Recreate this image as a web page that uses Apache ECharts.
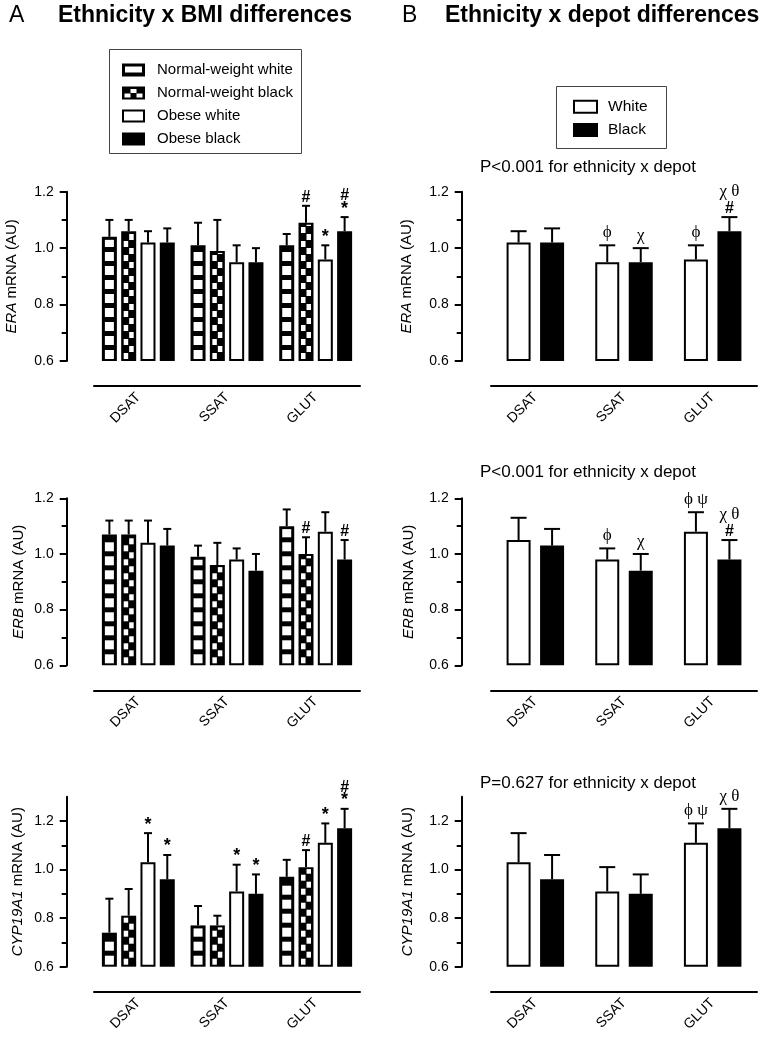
<!DOCTYPE html>
<html>
<head>
<meta charset="utf-8">
<title>Ethnicity x BMI / depot differences</title>
<script src="https://cdn.jsdelivr.net/npm/echarts@6/dist/echarts.min.js"></script>
<style>
  html, body { margin: 0; padding: 0; background: #fff; }
  #main { width: 762px; height: 1041px; }
</style>
</head>
<body>
<div id="main"></div>
<script>
// categories
const depots = ['DSAT', 'SSAT', 'GLUT'];
const bmiGroups = ['Normal-weight white', 'Normal-weight black', 'Obese white', 'Obese black'];
const ethnicGroups = ['White', 'Black'];

// panel A (rows = group, cols = depot): mean, top of error bar, marks
const eraMeanA = [[1.04, 1.01, 1.01], [1.06, 0.99, 1.09], [1.02, 0.95, 0.96], [1.02, 0.95, 1.06]];
const eraErrA = [[1.10, 1.09, 1.05], [1.10, 1.10, 1.15], [1.06, 1.01, 1.01], [1.07, 1.00, 1.11]];
const eraMarkA = [['', '', ''], ['', '', '#'], ['', '', '*'], ['', '', '#\n*']];

const erbMeanA = [[1.07, 0.99, 1.10], [1.07, 0.96, 1.00], [1.04, 0.98, 1.08], [1.03, 0.94, 0.98]];
const erbErrA = [[1.12, 1.03, 1.16], [1.12, 1.04, 1.06], [1.12, 1.02, 1.15], [1.09, 1.00, 1.05]];
const erbMarkA = [['', '', ''], ['', '', '#'], ['', '', ''], ['', '', '#']];

const cypMeanA = [[0.74, 0.77, 0.97], [0.81, 0.77, 1.01], [1.03, 0.91, 1.11], [0.96, 0.90, 1.17]];
const cypErrA = [[0.88, 0.85, 1.04], [0.92, 0.81, 1.08], [1.15, 1.02, 1.19], [1.06, 0.98, 1.25]];
const cypMarkA = [['', '', ''], ['', '', '#'], ['*', '*', '*'], ['*', '*', '#\n*']];

// panel B (rows = ethnicity)
const eraMeanB = [[1.02, 0.95, 0.96], [1.02, 0.95, 1.06]];
const eraErrB = [[1.06, 1.01, 1.01], [1.07, 1.00, 1.11]];
const eraMarkB = [['', 'ϕ', 'ϕ'], ['', 'χ', 'χ θ\n#']];

const erbMeanB = [[1.05, 0.98, 1.08], [1.03, 0.94, 0.98]];
const erbErrB = [[1.13, 1.02, 1.15], [1.09, 1.00, 1.05]];
const erbMarkB = [['', 'ϕ', 'ϕ ψ'], ['', 'χ', 'χ θ\n#']];

const cypMeanB = [[1.03, 0.91, 1.11], [0.96, 0.90, 1.17]];
const cypErrB = [[1.15, 1.01, 1.19], [1.06, 0.98, 1.25]];
const cypMarkB = [['', '', 'ϕ ψ'], ['', '', 'χ θ']];

const majorTicks = [0.6, 0.8, 1.0, 1.2];
const minorTicks = [0.7, 0.9, 1.1];
const pTexts = ['P<0.001 for ethnicity x depot', 'P<0.001 for ethnicity x depot', 'P=0.627 for ethnicity x depot'];

const FONT = '"Liberation Sans", Arial, sans-serif';
const SERIF = '"Liberation Serif", "DejaVu Serif", serif';
const Y_BASE = 0.6;

const rowTop = [191.7, 498.3, 796.7];
const rowHeight = [169.3, 167, 170];
const colLeft = [94, 491];

const panels = [
  {col: 0, row: 0, gene: 'ERA', means: eraMeanA, errs: eraErrA, marks: eraMarkA, yMax: 1.2, nameGap: 47},
  {col: 0, row: 1, gene: 'ERB', means: erbMeanA, errs: erbErrA, marks: erbMarkA, yMax: 1.2, nameGap: 40},
  {col: 0, row: 2, gene: 'CYP19A1', means: cypMeanA, errs: cypErrA, marks: cypMarkA, yMax: 1.3, nameGap: 41},
  {col: 1, row: 0, gene: 'ERA', means: eraMeanB, errs: eraErrB, marks: eraMarkB, yMax: 1.2, nameGap: 47},
  {col: 1, row: 1, gene: 'ERB', means: erbMeanB, errs: erbErrB, marks: erbMarkB, yMax: 1.2, nameGap: 45},
  {col: 1, row: 2, gene: 'CYP19A1', means: cypMeanB, errs: cypErrB, marks: cypMarkB, yMax: 1.3, nameGap: 46}
];

function markText(mark) {
  return mark.split('\n').map(function (line) {
    if (line === '*') return '{s|*}';
    return /^[#*]+$/.test(line) ? '{b|' + line + '}' : '{g|' + line + '}';
  }).join('\n');
}

function barRenderer(kind, idx, count, barW, gap, capW, marks) {
  return function (params, api) {
    const cat = api.value(0);
    const base = api.coord([cat, Y_BASE]);
    const top = api.coord([cat, api.value(1)]);
    const err = api.coord([cat, api.value(2)]);
    const groupW = count * barW + (count - 1) * gap;
    const x0 = top[0] - groupW / 2 + idx * (barW + gap);
    const cx = x0 + barW / 2;
    const yTop = top[1], yBot = base[1];
    const children = [
      {type: 'line', shape: {x1: cx, y1: yTop, x2: cx, y2: err[1]}, style: {stroke: '#000', lineWidth: 2}},
      {type: 'line', shape: {x1: cx - capW / 2, y1: err[1], x2: cx + capW / 2, y2: err[1]}, style: {stroke: '#000', lineWidth: 2}}
    ];
    if (kind === 'white') {
      children.push({type: 'rect', shape: {x: x0 + 1, y: yTop + 1, width: barW - 2, height: yBot - yTop - 2},
        style: {fill: '#fff', stroke: '#000', lineWidth: 2}});
    } else {
      children.push({type: 'rect', shape: {x: x0, y: yTop, width: barW, height: yBot - yTop}, style: {fill: '#000'}});
    }
    if (kind === 'stripe') {
      for (let b = yBot - 2; b - 2 > yTop + 3; b -= 14) {
        const t = Math.max(b - 9, yTop + 3);
        children.push({type: 'rect', shape: {x: x0 + 3, y: t, width: barW - 6, height: b - t}, style: {fill: '#fff'}});
      }
    }
    if (kind === 'check') {
      const cw = (barW - 4) / 2;
      for (let r = 0, b = yBot - 2; b - 1 > yTop + 2; r++, b -= 7) {
        const t = Math.max(b - 6, yTop + 2);
        const c = r % 2;
        children.push({type: 'rect', shape: {x: x0 + 2 + c * cw + 0.5, y: t, width: cw - 1, height: b - t}, style: {fill: '#fff'}});
      }
    }
    const mark = marks[params.dataIndex];
    if (mark) {
      children.push({type: 'text', style: {
        text: markText(mark), x: cx, y: err[1] - 2, align: 'center', verticalAlign: 'bottom',
        rich: {
          b: {font: 'bold 16px ' + FONT, lineHeight: 13, fill: '#000'},
          s: {font: 'bold 18px ' + FONT, lineHeight: 13, fill: '#000'},
          g: {font: '17px ' + SERIF, lineHeight: 21, fill: '#000'}
        }
      }});
    }
    return {type: 'group', children: children};
  };
}

const grids = [], xAxes = [], yAxes = [], series = [];
panels.forEach(function (p, i) {
  grids.push({left: colLeft[p.col], width: 266, top: rowTop[p.row], height: rowHeight[p.row]});
  const yOffset = p.col === 0 ? 27.3 : 29.3;
  xAxes.push({
    type: 'category', gridIndex: i, data: depots, position: 'bottom', offset: 25,
    axisLine: {lineStyle: {color: '#000', width: 2}},
    axisTick: {alignWithLabel: true, length: 7, lineStyle: {color: '#000', width: 2}},
    axisLabel: {rotate: 45, fontSize: 14, color: '#000', fontFamily: FONT, margin: 9},
    splitLine: {show: false}
  });
  yAxes.push({
    type: 'value', gridIndex: i, min: 0.6, max: p.yMax, position: 'left', offset: yOffset,
    name: '{i|' + p.gene + '} mRNA (AU)', nameLocation: 'middle', nameGap: p.nameGap,
    nameTextStyle: {fontFamily: FONT, fontSize: 15, color: '#000',
      rich: {i: {fontStyle: 'italic', fontFamily: FONT, fontSize: 15, color: '#000'}}},
    axisLine: {show: true, lineStyle: {color: '#000', width: 2}},
    axisTick: {show: true, length: 7, customValues: majorTicks, lineStyle: {color: '#000', width: 2}},
    axisLabel: {customValues: majorTicks, fontSize: 14, color: '#000', fontFamily: FONT, margin: 13,
      formatter: function (v) { return v.toFixed(1); }},
    splitLine: {show: false}
  });
  yAxes.push({
    type: 'value', gridIndex: i, min: 0.6, max: p.yMax, position: 'left', offset: yOffset,
    axisLine: {show: false},
    axisTick: {show: true, length: 5, customValues: minorTicks, lineStyle: {color: '#000', width: 2}},
    axisLabel: {show: false},
    splitLine: {show: false}
  });
  const left = p.col === 0;
  const kinds = left ? ['stripe', 'check', 'white', 'black'] : ['white', 'black'];
  const names = left ? bmiGroups : ethnicGroups;
  p.means.forEach(function (m, s) {
    series.push({
      type: 'custom', name: names[s], xAxisIndex: i, yAxisIndex: 2 * i, silent: true,
      renderItem: barRenderer(kinds[s], s, kinds.length, left ? 15 : 24, left ? 4.3 : 9.5, left ? 8 : 16, p.marks[s]),
      encode: {x: 0, y: [1, 2]},
      data: depots.map(function (d, j) { return [j, m[j], p.errs[s][j]]; })
    });
  });
});

function swatch(kind, x, y, w, h) {
  const els = [];
  if (kind === 'white') {
    els.push({type: 'rect', shape: {x: x + 1, y: y + 1, width: w - 2, height: h - 2}, style: {fill: '#fff', stroke: '#000', lineWidth: 2}});
  } else {
    els.push({type: 'rect', shape: {x: x, y: y, width: w, height: h}, style: {fill: '#000'}});
  }
  if (kind === 'stripe') {
    els.push({type: 'rect', shape: {x: x + 3, y: y + 3, width: w - 6, height: h - 7}, style: {fill: '#fff'}});
  }
  if (kind === 'check') {
    els.push({type: 'rect', shape: {x: x + 8.5, y: y + 2.5, width: 6, height: 4}, style: {fill: '#fff'}});
    els.push({type: 'rect', shape: {x: x + 2.5, y: y + 7, width: 6, height: 4}, style: {fill: '#fff'}});
    els.push({type: 'rect', shape: {x: x + 14.5, y: y + 7, width: 6, height: 4}, style: {fill: '#fff'}});
  }
  return els;
}

const graphics = [
  {type: 'text', left: 9, top: 4, style: {text: 'A', font: '23px ' + FONT, fill: '#000'}},
  {type: 'text', left: 58, top: 4, style: {text: 'Ethnicity x BMI differences', font: 'bold 23px ' + FONT, fill: '#000'}},
  {type: 'text', left: 402, top: 4, style: {text: 'B', font: '23px ' + FONT, fill: '#000'}},
  {type: 'text', left: 445, top: 4, style: {text: 'Ethnicity x depot differences', font: 'bold 23px ' + FONT, fill: '#000'}},
  {type: 'rect', shape: {x: 109.5, y: 49.5, width: 192, height: 104}, style: {fill: '#fff', stroke: '#444', lineWidth: 1}},
  {type: 'rect', shape: {x: 556.5, y: 86.5, width: 110, height: 62}, style: {fill: '#fff', stroke: '#444', lineWidth: 1}}
];
const legendRowsA = [70, 93, 116, 139];
['stripe', 'check', 'white', 'black'].forEach(function (k, i) {
  swatch(k, 122, legendRowsA[i] - 6.5, 23, 13).forEach(function (e) { graphics.push(e); });
  graphics.push({type: 'text', style: {text: bmiGroups[i], x: 157, y: legendRowsA[i], verticalAlign: 'middle', font: '15px ' + FONT, fill: '#000'}});
});
const legendRowsB = [106.7, 130];
['white', 'black'].forEach(function (k, i) {
  swatch(k, 573, legendRowsB[i] - 7, 25, 14).forEach(function (e) { graphics.push(e); });
  graphics.push({type: 'text', style: {text: ethnicGroups[i], x: 608, y: legendRowsB[i], verticalAlign: 'middle', font: '15.5px ' + FONT, fill: '#000'}});
});
const pTextY = [167, 472, 783];
pTexts.forEach(function (t, i) {
  graphics.push({type: 'text', style: {text: t, x: 588, y: pTextY[i], align: 'center', verticalAlign: 'middle', font: '17px ' + FONT, fill: '#000'}});
});

const chart = echarts.init(document.getElementById('main'), null, {renderer: 'canvas'});
chart.setOption({
  animation: false,
  backgroundColor: '#fff',
  grid: grids,
  xAxis: xAxes,
  yAxis: yAxes,
  series: series,
  graphic: graphics
});
</script>
</body>
</html>
